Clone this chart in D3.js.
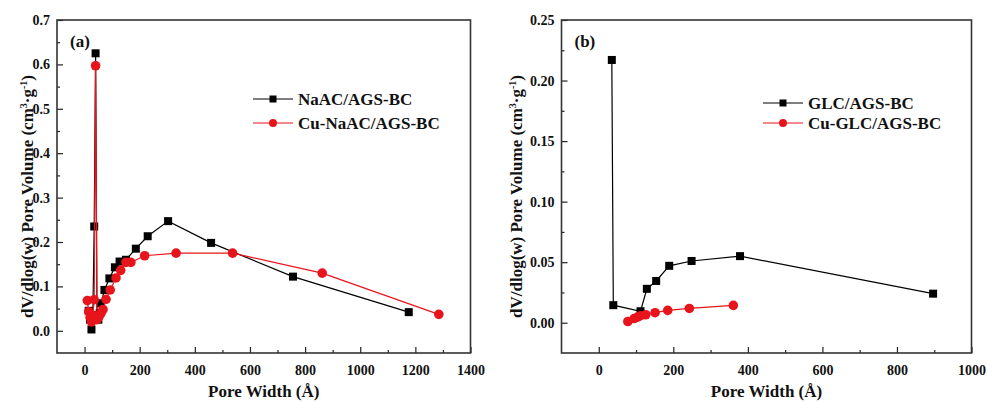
<!DOCTYPE html>
<html>
<head>
<meta charset="utf-8">
<script src="https://cdn.jsdelivr.net/npm/d3@7"></script>
<style>
  body { margin: 0; background: #fff; }
</style>
</head>
<body>
<svg id="chart" width="987" height="402"></svg>
<script>
// panel (a) - NaAC/AGS-BC and Cu-NaAC/AGS-BC
const naacWidth  = [15, 20, 25, 30, 35, 40, 45, 50, 55, 60, 72, 90, 110, 127, 150, 186, 229, 303, 459, 756, 1176];
const naacVolume = [0.045, 0.025, 0.003, 0.035, 0.235, 0.625, 0.035, 0.025, 0.04, 0.062, 0.092, 0.118, 0.143, 0.156, 0.160, 0.185, 0.213, 0.247, 0.198, 0.122, 0.042];
const cuNaacWidth  = [10, 15, 20, 25, 30, 35, 40, 45, 50, 55, 60, 67, 78, 93, 114, 131, 150, 168, 218, 332, 537, 862, 1285];
const cuNaacVolume = [0.068, 0.043, 0.03, 0.02, 0.035, 0.07, 0.597, 0.025, 0.03, 0.035, 0.04, 0.048, 0.071, 0.092, 0.119, 0.136, 0.154, 0.154, 0.169, 0.175, 0.175, 0.130, 0.037];

// panel (b) - GLC/AGS-BC and Cu-GLC/AGS-BC
const glcWidth  = [35, 39, 112, 129, 154, 189, 249, 379, 897];
const glcVolume = [0.217, 0.0145, 0.0095, 0.028, 0.0345, 0.047, 0.051, 0.055, 0.024];
const cuGlcWidth  = [78, 95, 104, 112, 126, 151, 185, 243, 361];
const cuGlcVolume = [0.001, 0.0035, 0.0046, 0.0058, 0.0066, 0.0083, 0.0102, 0.0118, 0.0143];

const xTicksA = [0, 200, 400, 600, 800, 1000, 1200, 1400];
const yTicksA = [0.0, 0.1, 0.2, 0.3, 0.4, 0.5, 0.6, 0.7];
const xTicksB = [0, 200, 400, 600, 800, 1000];
const yTicksB = [0.00, 0.05, 0.10, 0.15, 0.20, 0.25];

const FONT = "'Liberation Serif', 'DejaVu Serif', 'Times New Roman', serif";
const svg = d3.select("#chart");
const zip = (xs, ys) => xs.map((x, i) => ({x: x, y: ys[i]}));

function txt(sel, size) {
  return sel.attr("font-family", FONT).attr("font-weight", "bold")
    .attr("font-size", size).attr("fill", "#111");
}

function panel(opt) {
  const x = d3.scaleLinear().domain(opt.xDomain).range([opt.left, opt.right]);
  const y = d3.scaleLinear().domain(opt.yDomain).range([opt.bottom, opt.top]);
  const g = svg.append("g");

  // minor ticks (inward)
  g.append("g").attr("transform", "translate(0," + opt.bottom + ")")
    .call(d3.axisBottom(x).tickValues(opt.xMinor).tickSize(-3).tickFormat(""))
    .call(a => a.select(".domain").remove());
  g.append("g").attr("transform", "translate(" + opt.left + ",0)")
    .call(d3.axisLeft(y).tickValues(opt.yMinor).tickSize(-3).tickFormat(""))
    .call(a => a.select(".domain").remove());

  // major ticks
  const xa = g.append("g").attr("transform", "translate(0," + opt.bottom + ")")
    .call(d3.axisBottom(x).tickValues(opt.xTicks).tickSize(-6).tickPadding(12).tickFormat(d3.format("d")));
  const ya = g.append("g").attr("transform", "translate(" + opt.left + ",0)")
    .call(d3.axisLeft(y).tickValues(opt.yTicks).tickSize(-6).tickPadding(7).tickFormat(d3.format(opt.yFormat)));
  [xa, ya].forEach(a => {
    a.select(".domain").remove();
    txt(a.selectAll("text"), 14);
  });
  g.selectAll(".tick line").attr("stroke", "#222").attr("stroke-width", 1.2);

  // frame
  g.append("rect").attr("x", opt.left).attr("y", opt.top)
    .attr("width", opt.right - opt.left).attr("height", opt.bottom - opt.top)
    .attr("fill", "none").attr("stroke", "#333").attr("stroke-width", 1.6);

  const line = d3.line().x(d => x(d.x)).y(d => y(d.y));
  opt.series.forEach(s => {
    const data = zip(s.xs, s.ys);
    g.append("path").datum(data).attr("fill", "none")
      .attr("stroke", s.color).attr("stroke-width", 1.2).attr("d", line);
    if (s.shape === "square") {
      g.selectAll(null).data(data).enter().append("rect")
        .attr("x", d => x(d.x) - 4).attr("y", d => y(d.y) - 4)
        .attr("width", 8).attr("height", 8).attr("fill", s.color);
    } else {
      g.selectAll(null).data(data).enter().append("circle")
        .attr("cx", d => x(d.x)).attr("cy", d => y(d.y)).attr("r", 4.8).attr("fill", s.color);
    }
  });

  // legend
  opt.series.forEach((s, i) => {
    const ly = opt.legend.y[i];
    g.append("line").attr("x1", opt.legend.x).attr("x2", opt.legend.x + 40)
      .attr("y1", ly).attr("y2", ly).attr("stroke", s.color).attr("stroke-width", 1.2);
    if (s.shape === "square") {
      g.append("rect").attr("x", opt.legend.x + 16.5).attr("y", ly - 3.5)
        .attr("width", 7).attr("height", 7).attr("fill", s.color);
    } else {
      g.append("circle").attr("cx", opt.legend.x + 20).attr("cy", ly).attr("r", 4).attr("fill", s.color);
    }
    txt(g.append("text"), 17).attr("x", opt.legend.x + 45).attr("y", ly + 6).text(s.name);
  });

  txt(g.append("text"), 17).attr("x", opt.left + 13).attr("y", opt.top + 27).text(opt.tag);

  txt(g.append("text"), 17).attr("x", (opt.left + opt.right) / 2).attr("y", 397)
    .attr("text-anchor", "middle").text("Pore Width (Å)");

  const yl = txt(g.append("text"), 17)
    .attr("transform", "translate(" + opt.yLabelX + "," + ((opt.top + opt.bottom) / 2 + 10) + ") rotate(-90)")
    .attr("text-anchor", "middle");
  yl.append("tspan").text("dV/dlog(w) Pore Volume  (cm");
  yl.append("tspan").attr("font-size", 10).attr("dy", -6).text("3");
  yl.append("tspan").attr("dy", 6).text("·g");
  yl.append("tspan").attr("font-size", 10).attr("dy", -6).text("-1");
  yl.append("tspan").attr("dy", 6).text(")");
}

panel({
  left: 57, right: 470.5, top: 20, bottom: 353,
  xDomain: [-100, 1400], yDomain: [-0.05, 0.7],
  xTicks: xTicksA, yTicks: yTicksA, yFormat: ".1f",
  xMinor: d3.range(100, 1400, 200), yMinor: d3.range(0.05, 0.7, 0.1),
  tag: "(a)", yLabelX: 33,
  legend: {x: 253, y: [99, 123]},
  series: [
    {name: "NaAC/AGS-BC", xs: naacWidth, ys: naacVolume, color: "#000", shape: "square"},
    {name: "Cu-NaAC/AGS-BC", xs: cuNaacWidth, ys: cuNaacVolume, color: "#e8141b", shape: "circle"}
  ]
});

panel({
  left: 561.5, right: 971.5, top: 20, bottom: 353,
  xDomain: [-100, 1000], yDomain: [-0.025, 0.25],
  xTicks: xTicksB, yTicks: yTicksB, yFormat: ".2f",
  xMinor: d3.range(100, 1000, 200), yMinor: d3.range(0.025, 0.25, 0.05),
  tag: "(b)", yLabelX: 522,
  legend: {x: 763, y: [103, 123]},
  series: [
    {name: "GLC/AGS-BC", xs: glcWidth, ys: glcVolume, color: "#000", shape: "square"},
    {name: "Cu-GLC/AGS-BC", xs: cuGlcWidth, ys: cuGlcVolume, color: "#e8141b", shape: "circle"}
  ]
});
</script>
</body>
</html>
